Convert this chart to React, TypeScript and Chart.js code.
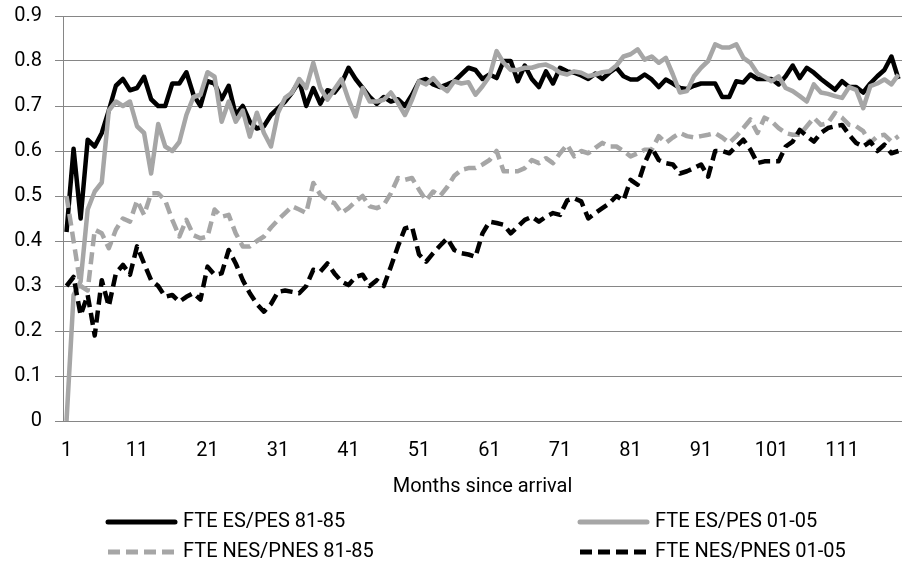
import React, { useEffect, useRef } from "react";
import { Chart, registerables } from "chart.js";

Chart.register(...registerables);

// Months since arrival (categories)
const months: string[] = Array.from({ length: 119 }, (_, i) => String(i + 1));

// FTE ES/PES 81-85 (black solid)
const es8185: number[] = [
  0.42, 0.605, 0.45, 0.625, 0.61, 0.64, 0.69, 0.745, 0.76, 0.735,
  0.74, 0.765, 0.715, 0.7, 0.7, 0.75, 0.75, 0.775, 0.725, 0.7,
  0.755, 0.75, 0.715, 0.745, 0.68, 0.7, 0.665, 0.65, 0.655, 0.68,
  0.695, 0.71, 0.73, 0.755, 0.7, 0.74, 0.705, 0.735, 0.73, 0.75,
  0.785, 0.76, 0.74, 0.72, 0.705, 0.72, 0.71, 0.715, 0.7, 0.725,
  0.755, 0.76, 0.748, 0.742, 0.748, 0.755, 0.77, 0.785, 0.78, 0.76,
  0.77, 0.762, 0.8, 0.8, 0.755, 0.79, 0.76, 0.742, 0.777, 0.75,
  0.785, 0.777, 0.774, 0.768, 0.76, 0.772, 0.76, 0.774, 0.785, 0.766,
  0.759, 0.759, 0.77, 0.759, 0.742, 0.759, 0.75, 0.74, 0.738, 0.745,
  0.75, 0.75, 0.75, 0.72, 0.72, 0.755, 0.752, 0.77, 0.76, 0.76,
  0.76, 0.748, 0.766, 0.79, 0.762, 0.785, 0.774, 0.76, 0.748, 0.736,
  0.755, 0.742, 0.742, 0.73, 0.75, 0.766, 0.78, 0.81, 0.76,
];

// FTE ES/PES 01-05 (grey solid)
const es0105: number[] = [
  0.0, 0.28, 0.31, 0.47, 0.51, 0.53, 0.69, 0.71, 0.7, 0.71,
  0.655, 0.64, 0.55, 0.66, 0.61, 0.6, 0.62, 0.68, 0.72, 0.725,
  0.775, 0.765, 0.665, 0.71, 0.665, 0.69, 0.632, 0.685, 0.64, 0.61,
  0.685, 0.718, 0.73, 0.76, 0.74, 0.796, 0.74, 0.714, 0.737, 0.76,
  0.714, 0.677, 0.74, 0.71, 0.71, 0.714, 0.73, 0.707, 0.68, 0.714,
  0.755, 0.748, 0.762, 0.744, 0.733, 0.755, 0.75, 0.753, 0.725, 0.744,
  0.766, 0.822, 0.796, 0.78, 0.78, 0.785, 0.785, 0.79, 0.792, 0.785,
  0.774, 0.77, 0.777, 0.774, 0.766, 0.77, 0.775, 0.777, 0.79, 0.81,
  0.815, 0.826, 0.803, 0.81, 0.796, 0.807, 0.77, 0.73, 0.733, 0.766,
  0.785, 0.8, 0.837, 0.83, 0.83, 0.837, 0.807, 0.796, 0.772, 0.765,
  0.755, 0.766, 0.74, 0.733, 0.722, 0.71, 0.748, 0.73, 0.727, 0.722,
  0.718, 0.742, 0.736, 0.695, 0.744, 0.75, 0.759, 0.748, 0.77,
];

// FTE NES/PNES 81-85 (grey dashed)
const nes8185: number[] = [
  0.5, 0.4, 0.3, 0.29, 0.425, 0.417, 0.384, 0.425, 0.45, 0.443,
  0.49, 0.458, 0.506, 0.506, 0.49, 0.447, 0.41, 0.447, 0.413, 0.406,
  0.41, 0.47, 0.454, 0.458, 0.417, 0.388, 0.388, 0.4, 0.41, 0.43,
  0.447, 0.462, 0.477, 0.47, 0.462, 0.529, 0.503, 0.49, 0.484, 0.462,
  0.473, 0.488, 0.5, 0.477, 0.473, 0.48, 0.506, 0.54, 0.536, 0.54,
  0.514, 0.49, 0.51, 0.5, 0.52, 0.545, 0.558, 0.562, 0.562, 0.57,
  0.58, 0.6, 0.555, 0.555, 0.555, 0.562, 0.58, 0.573, 0.584, 0.573,
  0.595, 0.614, 0.588, 0.6, 0.595, 0.607, 0.618, 0.61, 0.61, 0.6,
  0.588, 0.595, 0.603, 0.603, 0.633, 0.618, 0.63, 0.64, 0.633, 0.63,
  0.633, 0.636, 0.64, 0.63, 0.618, 0.633, 0.651, 0.67, 0.64, 0.674,
  0.666, 0.651, 0.64, 0.636, 0.636, 0.655, 0.674, 0.658, 0.662, 0.685,
  0.674, 0.658, 0.655, 0.644, 0.618, 0.633, 0.636, 0.621, 0.633,
];

// FTE NES/PNES 01-05 (black dashed)
const nes0105: number[] = [
  0.3, 0.32, 0.235, 0.28, 0.19, 0.313, 0.255, 0.328, 0.347, 0.325,
  0.388, 0.35, 0.313, 0.3, 0.276, 0.28, 0.265, 0.276, 0.284, 0.27,
  0.343, 0.325, 0.328, 0.38, 0.35, 0.313, 0.284, 0.26, 0.243, 0.26,
  0.287, 0.29, 0.287, 0.284, 0.3, 0.336, 0.332, 0.35, 0.328, 0.31,
  0.302, 0.32, 0.325, 0.3, 0.313, 0.3, 0.343, 0.388, 0.428, 0.432,
  0.37, 0.354, 0.373, 0.39, 0.406, 0.38, 0.373, 0.37, 0.365, 0.417,
  0.443, 0.44, 0.436, 0.417, 0.432, 0.447, 0.454, 0.443, 0.454, 0.462,
  0.458, 0.49, 0.495, 0.488, 0.45, 0.462, 0.473, 0.484, 0.5, 0.49,
  0.536, 0.525, 0.573, 0.607, 0.58, 0.573, 0.57, 0.55, 0.555, 0.562,
  0.57, 0.543, 0.6, 0.6, 0.595, 0.61, 0.625, 0.603, 0.573, 0.577,
  0.577, 0.577, 0.61, 0.621, 0.647, 0.633, 0.621, 0.64, 0.651, 0.655,
  0.658, 0.636, 0.618, 0.61, 0.621, 0.6, 0.614, 0.595, 0.6,
];

const seriesNames: string[] = [
  "FTE ES/PES 81-85",
  "FTE ES/PES 01-05",
  "FTE NES/PNES 81-85",
  "FTE NES/PNES 01-05",
];

const FONT = "Roboto, 'Open Sans', 'DejaVu Sans', sans-serif";
const BLACK = "#000000";
const GREY = "#a6a6a6";
const GRID = "#868686";
const DASH = [12, 6];

const legendPlugin = {
  id: "gridLegend",
  afterDraw(chart: any) {
    const ctx: CanvasRenderingContext2D = chart.ctx;
    const cols = [106, 578];
    const rows = [522, 552];
    const lineLen = 71;
    const gap = 6;
    ctx.save();
    ctx.font = `20px ${FONT}`;
    ctx.textBaseline = "middle";
    ctx.textAlign = "left";
    chart.data.datasets.forEach((ds: any, i: number) => {
      const x = cols[i % 2];
      const y = rows[Math.floor(i / 2)];
      ctx.beginPath();
      ctx.strokeStyle = ds.borderColor;
      ctx.lineWidth = 5;
      ctx.lineCap = ds.borderDash && ds.borderDash.length ? "butt" : "round";
      ctx.setLineDash(ds.borderDash || []);
      ctx.moveTo(x + 2, y);
      ctx.lineTo(x + lineLen - 2, y);
      ctx.stroke();
      ctx.setLineDash([]);
      ctx.fillStyle = "#000";
      ctx.fillText(ds.label, x + lineLen + gap, y);
    });
    ctx.restore();
  },
};

export default function App() {
  const ref = useRef<HTMLCanvasElement | null>(null);

  useEffect(() => {
    document.body.style.margin = "0";
    if (!ref.current) return;
    const mk = (label: string, data: number[], color: string, dashed: boolean, order: number) => ({
      label,
      data,
      borderColor: color,
      backgroundColor: color,
      borderWidth: 4.5,
      borderDash: dashed ? DASH : [],
      borderJoinStyle: "round" as const,
      borderCapStyle: "butt" as const,
      pointRadius: 0,
      pointHoverRadius: 0,
      tension: 0,
      fill: false,
      order,
    });
    const chart = new Chart(ref.current, {
      type: "line",
      data: {
        labels: months,
        datasets: [
          mk(seriesNames[0], es8185, BLACK, false, 4),
          mk(seriesNames[1], es0105, GREY, false, 3),
          mk(seriesNames[2], nes8185, GREY, true, 2),
          mk(seriesNames[3], nes0105, BLACK, true, 1),
        ],
      },
      options: {
        animation: false,
        responsive: false,
        devicePixelRatio: 1,
        layout: { padding: { top: 16, left: 0, right: 0, bottom: 0 } },
        plugins: {
          legend: { display: false },
          tooltip: { enabled: false },
          title: { display: false },
        },
        scales: {
          x: {
            type: "category",
            offset: true,
            grid: { display: false, drawTicks: false },
            border: { display: false },
            ticks: {
              autoSkip: false,
              maxRotation: 0,
              minRotation: 0,
              padding: 18,
              color: "#000",
              font: { family: FONT, size: 20 },
              callback: (_v: any, idx: number) => (idx % 10 === 0 ? months[idx] : ""),
            },
            title: {
              display: true,
              text: "Months since arrival",
              color: "#000",
              font: { family: FONT, size: 20 },
              padding: { top: 0, bottom: 69 },
            },
            afterFit: (scale: any) => {
              scale.height = 147;
              scale.paddingLeft = 0;
              scale.paddingRight = 0;
            },
          },
          y: {
            min: 0,
            max: 0.9,
            grid: { color: GRID, lineWidth: 1, drawTicks: true, tickLength: 8 },
            border: { display: true, color: GRID, width: 1 },
            ticks: {
              stepSize: 0.1,
              padding: 13,
              color: "#000",
              font: { family: FONT, size: 20 },
              callback: (v: any) => String(Number(Number(v).toFixed(1))),
            },
            afterFit: (scale: any) => {
              scale.width = 63;
              scale.paddingTop = 0;
              scale.paddingBottom = 0;
            },
          },
        },
      },
      plugins: [legendPlugin],
    });
    return () => chart.destroy();
  }, []);

  return (
    <div style={{ width: 902, height: 568, background: "#fff" }}>
      <canvas ref={ref} width={902} height={568} style={{ display: "block" }} />
    </div>
  );
}
